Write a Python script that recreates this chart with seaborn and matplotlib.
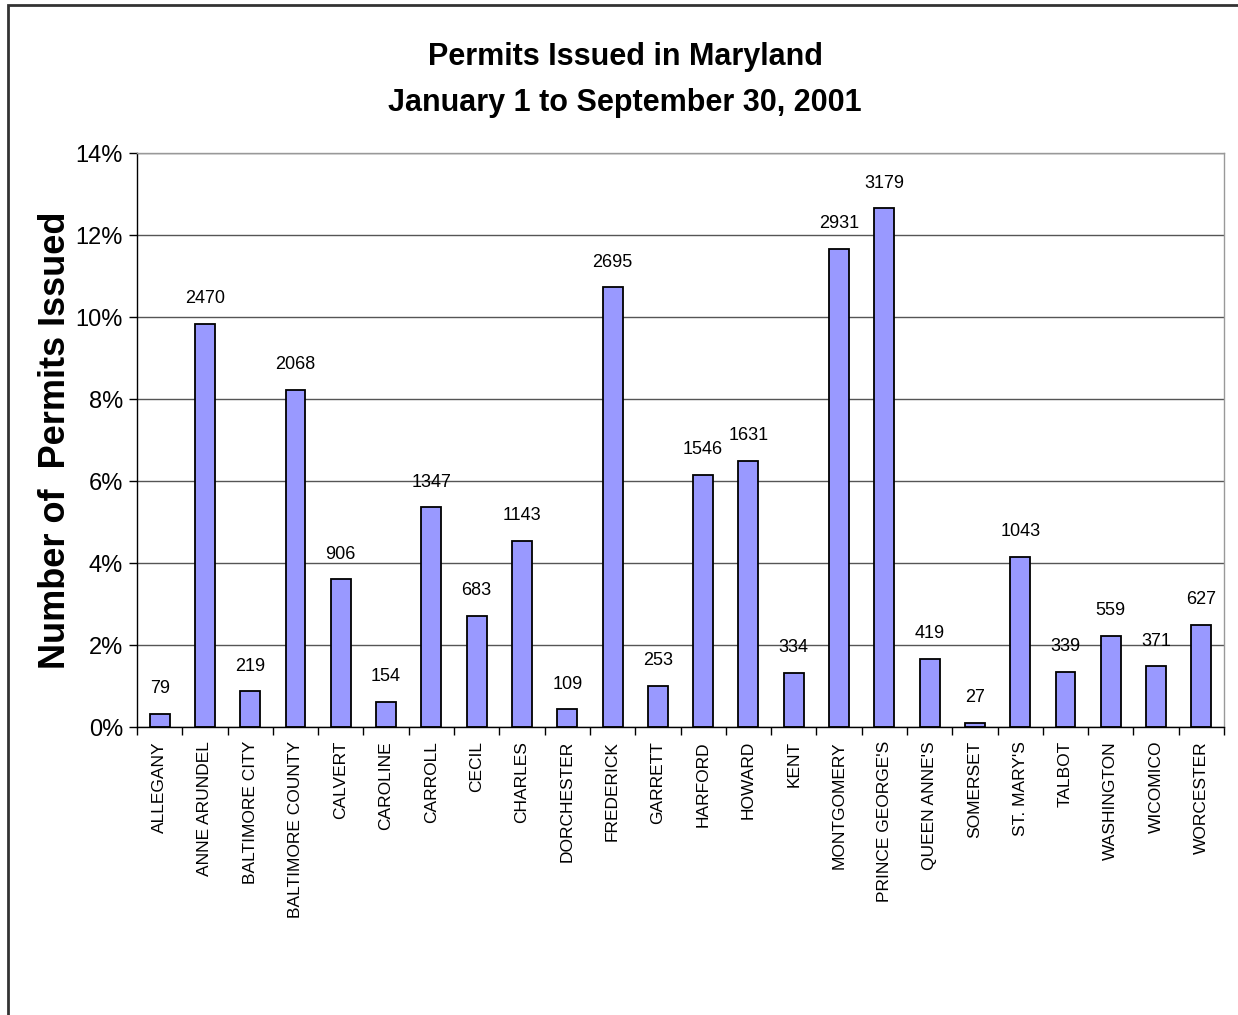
import matplotlib
matplotlib.use("Agg")
import matplotlib.pyplot as plt
import seaborn as sns
import pandas as pd
from matplotlib.patches import Rectangle
from matplotlib.ticker import FuncFormatter, MultipleLocator

counties = ["ALLEGANY", "ANNE ARUNDEL", "BALTIMORE CITY", "BALTIMORE COUNTY", "CALVERT",
            "CAROLINE", "CARROLL", "CECIL", "CHARLES", "DORCHESTER", "FREDERICK", "GARRETT",
            "HARFORD", "HOWARD", "KENT", "MONTGOMERY", "PRINCE GEORGE'S", "QUEEN ANNE'S",
            "SOMERSET", "ST. MARY'S", "TALBOT", "WASHINGTON", "WICOMICO", "WORCESTER"]
permits = [79, 2470, 219, 2068, 906, 154, 1347, 683, 1143, 109, 2695, 253,
           1546, 1631, 334, 2931, 3179, 419, 27, 1043, 339, 559, 371, 627]

total = sum(permits)
df = pd.DataFrame({"county": counties, "permits": permits})
df["share"] = df["permits"] / total * 100

sns.set_theme(style="white")
plt.rcParams['font.family'] = ['Liberation Sans', 'DejaVu Sans']
plt.rcParams['text.color'] = 'black'
plt.rcParams['axes.labelcolor'] = 'black'
plt.rcParams['xtick.color'] = 'black'
plt.rcParams['ytick.color'] = 'black'

fig = plt.figure(figsize=(12.38, 10.15), dpi=100)
ax = fig.add_axes([137/1238, 1 - 727/1015, (1224-137)/1238, (727-153)/1015])

sns.barplot(data=df, x="county", y="share", color="#9999FF", saturation=1,
            edgecolor="black", linewidth=1.3, width=0.44, ax=ax)

ax.set_ylim(0, 14)
ax.set_xlim(-0.5, len(counties) - 0.5)
ax.yaxis.set_major_locator(MultipleLocator(2))
ax.yaxis.set_major_formatter(FuncFormatter(lambda v, p: f"{int(round(v))}%"))
ax.grid(axis="y", color="#555555", linewidth=1)
ax.set_axisbelow(True)

for s in ["top", "right"]:
    ax.spines[s].set_color("#999999")
    ax.spines[s].set_linewidth(1)
for s in ["left", "bottom"]:
    ax.spines[s].set_color("black")
    ax.spines[s].set_linewidth(1)

# value labels
for i, (v, p) in enumerate(zip(df["share"], df["permits"])):
    ax.annotate(str(p), (i, v), xytext=(0, 12), textcoords="offset points",
                ha="center", va="bottom", fontsize=13, color="black")

# x ticks at category boundaries
ax.set_xticks(range(len(counties)))
ax.set_xticklabels(counties, rotation=90, fontsize=12.5, va="top")
ax.tick_params(axis="x", which="major", length=0, pad=10)
ax.set_xticks([i + 0.5 for i in range(-1, len(counties))], minor=True)
ax.tick_params(axis="x", which="minor", length=6, color="black", width=1, direction="out", bottom=True)
ax.tick_params(axis="y", length=6, color="black", width=1, direction="out", left=True, labelsize=17, pad=4)

ax.set_xlabel("")
ax.set_ylabel("Number of  Permits Issued", fontsize=26, fontweight="bold", va="center")
ax.yaxis.set_label_coords((56 - 137) / 1087, 0.5)

fig.text(625/1238, 1 - 57/1015, "Permits Issued in Maryland", ha="center", va="center",
         fontsize=22, fontweight="bold")
fig.text(625/1238, 1 - 103/1015, "January 1 to September 30, 2001", ha="center", va="center",
         fontsize=22, fontweight="bold")

fig.patches.append(Rectangle((8/1238, -0.05), 1.1, 1 - 5/1015 + 0.05, transform=fig.transFigure,
                             fill=False, edgecolor="#333333", linewidth=2))

fig.savefig("out.png", dpi=100, facecolor="white")
